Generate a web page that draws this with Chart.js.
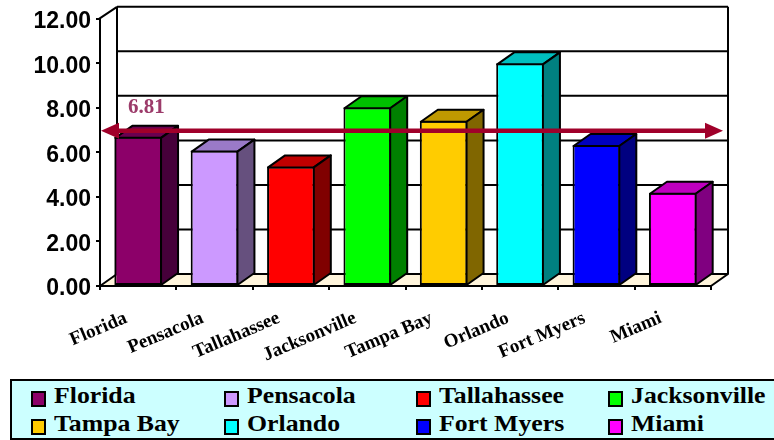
<!DOCTYPE html>
<html>
<head>
<meta charset="utf-8">
<script src="https://cdn.jsdelivr.net/npm/chart.js@4.4.1/dist/chart.umd.min.js"></script>
<style>
  html, body { margin: 0; padding: 0; background: #fff; }
  #wrap { position: relative; width: 774px; height: 440px; overflow: hidden; }
  #c { position: absolute; left: 0; top: 0; }
  #legend { position: absolute; left: 10px; top: 379px; width: 780px; height: 57px;
            background: #CCFFFF; border: 2px solid #000; }
  .item { position: absolute; height: 28px; }
  .mk { position: absolute; left: 0; top: 9px; width: 11px; height: 12px; border: 2px solid #000; }
  .tx { position: absolute; left: 23px; top: 0; white-space: nowrap;
        font: bold 23px "Liberation Serif", "Times New Roman", serif; line-height: 28px;
        transform: scaleX(1.12); transform-origin: left center; color: #000; }
</style>
</head>
<body>
<div id="wrap">
  <canvas id="c" width="774" height="440"></canvas>
  <div id="legend"></div>
</div>
<script>
// ---- data ----
const categories = ['Florida', 'Pensacola', 'Tallahassee', 'Jacksonville', 'Tampa Bay', 'Orlando', 'Fort Myers', 'Miami'];
const values = [6.70, 6.08, 5.37, 8.03, 7.42, 10.00, 6.33, 4.19];
const averageValue = 6.81;
const yTicks = [0, 2, 4, 6, 8, 10, 12];

// ---- styles ----
const frontColors = ['#8C0069', '#CC99FF', '#FF0000', '#00FF00', '#FFCC00', '#00FFFF', '#0000FF', '#FF00FF'];
const topColors   = ['#6A0050', '#9A7AC8', '#C00000', '#00BF00', '#BF9900', '#00BFBF', '#0000BF', '#BF00BF'];
const sideColors  = ['#46003A', '#66507E', '#800000', '#008000', '#806600', '#008080', '#000080', '#800080'];

const DX = 17, DY = -12;

const depthPlugin = {
  id: 'depth',
  beforeDatasetsDraw(chart) {
    const { ctx, chartArea: a, scales: { y } } = chart;
    ctx.save();
    ctx.strokeStyle = '#000';
    ctx.lineWidth = 2;
    ctx.lineJoin = 'round';
    // floor
    ctx.fillStyle = '#FFF5DC';
    ctx.beginPath();
    ctx.moveTo(a.left, a.bottom);
    ctx.lineTo(a.right, a.bottom);
    ctx.lineTo(a.right + DX, a.bottom + DY);
    ctx.lineTo(a.left + DX, a.bottom + DY);
    ctx.closePath();
    ctx.fill();
    ctx.stroke();
    // back wall gridlines
    yTicks.forEach(v => {
      const py = y.getPixelForValue(v) + DY;
      ctx.beginPath();
      ctx.moveTo(a.left + DX, py);
      ctx.lineTo(a.right + DX, py);
      ctx.stroke();
    });
    // back wall verticals
    const yt = y.getPixelForValue(yTicks[yTicks.length - 1]) + DY;
    const yb = y.getPixelForValue(0) + DY;
    ctx.beginPath();
    ctx.moveTo(a.left + DX, yt); ctx.lineTo(a.left + DX, yb);
    ctx.moveTo(a.right + DX, yt); ctx.lineTo(a.right + DX, yb);
    // left wall top diagonal
    ctx.moveTo(a.left - 1, y.getPixelForValue(yTicks[yTicks.length - 1]));
    ctx.lineTo(a.left + DX, yt);
    ctx.stroke();
    ctx.restore();
  },
  afterDatasetsDraw(chart) {
    const { ctx, chartArea: a, scales: { y } } = chart;
    const meta = chart.getDatasetMeta(0);
    ctx.save();
    ctx.strokeStyle = '#000';
    ctx.lineWidth = 2;
    ctx.lineJoin = 'round';
    meta.data.forEach((bar, i) => {
      const p = bar.getProps(['x', 'y', 'base', 'width'], true);
      const l = p.x - p.width / 2 + 1, r = p.x + p.width / 2 - 1;
      const t = p.y + 1, b = p.base;
      // top face
      ctx.fillStyle = topColors[i];
      ctx.beginPath();
      ctx.moveTo(l, t); ctx.lineTo(r, t); ctx.lineTo(r + DX, t + DY); ctx.lineTo(l + DX, t + DY);
      ctx.closePath(); ctx.fill(); ctx.stroke();
      // side face
      ctx.fillStyle = sideColors[i];
      ctx.beginPath();
      ctx.moveTo(r, t); ctx.lineTo(r + DX, t + DY); ctx.lineTo(r + DX, b + DY); ctx.lineTo(r, b);
      ctx.closePath(); ctx.fill(); ctx.stroke();
    });
    // average arrow
    const ay = y.getPixelForValue(averageValue) - 3.5;
    const x0 = a.left + 1, x1 = a.right + DX - 5;
    ctx.fillStyle = '#A0002A';
    ctx.strokeStyle = '#A0002A';
    ctx.lineWidth = 4.5;
    ctx.beginPath();
    ctx.moveTo(x0 + 10, ay); ctx.lineTo(x1 - 10, ay);
    ctx.stroke();
    ctx.beginPath();
    ctx.moveTo(x0, ay); ctx.lineTo(x0 + 18, ay - 8); ctx.lineTo(x0 + 18, ay + 8); ctx.closePath(); ctx.fill();
    ctx.beginPath();
    ctx.moveTo(x1, ay); ctx.lineTo(x1 - 18, ay - 8); ctx.lineTo(x1 - 18, ay + 8); ctx.closePath(); ctx.fill();
    // label
    ctx.fillStyle = '#9C3B6A';
    ctx.font = 'bold 21px "Liberation Serif", "Times New Roman", serif';
    ctx.textAlign = 'left';
    ctx.textBaseline = 'alphabetic';
    ctx.fillText(averageValue.toFixed(2), a.left + 28, ay - 18);
    ctx.restore();
  }
};

new Chart(document.getElementById('c'), {
  type: 'bar',
  data: {
    labels: categories,
    datasets: [{
      data: values,
      backgroundColor: frontColors,
      borderColor: '#000',
      borderWidth: 2,
      borderSkipped: false,
      categoryPercentage: 1,
      barPercentage: 0.625
    }]
  },
  options: {
    responsive: false,
    animation: false,
    events: [],
    layout: { padding: { left: 0, top: 17, right: 63, bottom: 0 } },
    plugins: { legend: { display: false }, tooltip: { enabled: false } },
    scales: {
      x: {
        afterFit: s => { s.height = 154; },
        grid: { offset: true, drawOnChartArea: false, drawTicks: true, tickLength: 4, color: '#000', lineWidth: 2 },
        border: { display: true, color: '#000', width: 2 },
        ticks: {
          autoSkip: false, minRotation: 23, maxRotation: 23, labelOffset: -12, padding: 17,
          color: '#000', font: { family: '"Liberation Serif", "Times New Roman", serif', size: 19, weight: 'bold' }
        }
      },
      y: {
        min: 0, max: 12,
        afterFit: s => { s.width = 100; },
        afterBuildTicks: s => { s.ticks = yTicks.map(v => ({ value: v })); },
        grid: { drawOnChartArea: false, drawTicks: true, tickLength: 4, color: '#000', lineWidth: 2 },
        border: { display: true, color: '#000', width: 2 },
        ticks: {
          padding: 5, color: '#000', labelOffset: 3,
          callback: v => Number(v).toFixed(2),
          font: { family: '"Liberation Sans", Arial, sans-serif', size: 23, weight: 'bold' }
        }
      }
    }
  },
  plugins: [depthPlugin]
});

// ---- legend ----
const legend = document.getElementById('legend');
const colX = [19, 212, 404, 596];
const rowY = [1, 29];
categories.forEach((name, i) => {
  const it = document.createElement('div');
  it.className = 'item';
  it.style.left = colX[i % 4] + 'px';
  it.style.top = rowY[Math.floor(i / 4)] + 'px';
  const mk = document.createElement('div');
  mk.className = 'mk';
  mk.style.background = frontColors[i];
  const tx = document.createElement('span');
  tx.className = 'tx';
  tx.textContent = name;
  it.appendChild(mk); it.appendChild(tx);
  legend.appendChild(it);
});
</script>
</body>
</html>
